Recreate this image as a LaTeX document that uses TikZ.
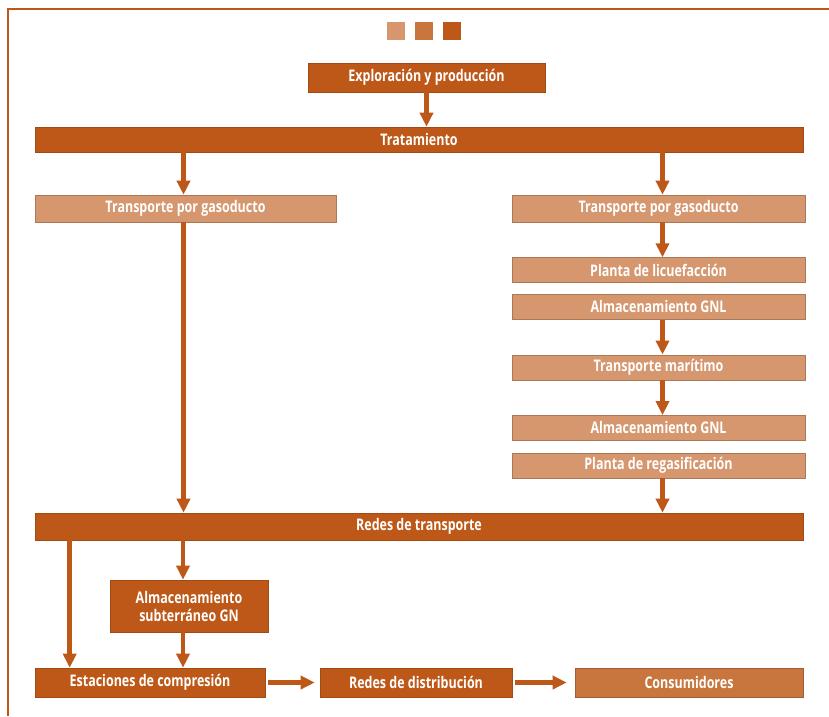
\documentclass[tikz,border=0pt]{standalone}
\usepackage{fontspec}
\setmainfont{Open Sans}[FakeStretch=0.78]
\usetikzlibrary{positioning, arrows.meta}
\definecolor{gasdark}{RGB}{190,88,24}
\definecolor{gasmid}{RGB}{201,118,62}
\definecolor{gaslight}{RGB}{214,150,110}
\tikzset{
	stage/.style={draw=gasdark!85!black, line width=0.6pt, rectangle, inner sep=1pt, text=white, font=\bfseries\fontsize{16}{18}\selectfont},
	darkbox/.style={stage, fill=gasdark, minimum height=27pt},
	lightbox/.style={stage, fill=gaslight, draw=gaslight!80!black, minimum height=25pt},
	midbox/.style={stage, fill=gasmid, draw=gasmid!80!black, minimum height=29pt},
	% legend squares at the top
	swatch/.style={rectangle, minimum width=18pt, minimum height=18pt, inner sep=0pt},
	flow/.style={draw=gasdark, line width=4.5pt, -{Triangle[length=14pt, width=13pt]}},
}

\begin{document}
\begin{tikzpicture}[x=1pt, y=1pt]
	\useasboundingbox (0,0) rectangle (829,-716);
	\fill[white] (0,0) rectangle (829,-716);
	\draw[gasdark, line width=2pt] (829,-9) -- (8,-9) -- (8,-716);
	
	\node (sw1) [swatch, fill=gaslight] at (396,-31) {};
	\node (sw2) [swatch, fill=gasmid] at (424,-31) {};
	\node (sw3) [swatch, fill=gasdark] at (452,-31) {};
	
	\node (expl) [darkbox, minimum width=237pt, minimum height=29pt] at (426.5,-77.5) {Exploración y producción};
	\node (trat) [darkbox, minimum width=768pt, minimum height=25pt] at (419,-139.5) {Tratamiento};
	
	\node (tpgL) [lightbox, minimum width=301pt, minimum height=27pt] at (185.5,-208.5) {Transporte por gasoducto};
	\node (tpgR) [lightbox, minimum width=293pt, minimum height=27pt] at (658.5,-208.5) {Transporte por gasoducto};
	
	\node (lic) [lightbox, minimum width=293pt, below=35pt of tpgR] {Planta de licuefacción};
	\node (almA) [lightbox, minimum width=293pt, below=11pt of lic] {Almacenamiento GNL};
	\node (mar) [lightbox, minimum width=293pt, below=35pt of almA] {Transporte marítimo};
	\node (almB) [lightbox, minimum width=293pt, below=35pt of mar] {Almacenamiento GNL};
	\node (reg) [lightbox, minimum width=293pt, below=12pt of almB] {Planta de regasificación};
	
	\node (redes) [darkbox, minimum width=768pt] at (419,-526.5) {Redes de transporte};
	
	\node (sub) [darkbox, minimum width=158pt, minimum height=52pt, align=center] at (189,-606) {Almacenamiento\\subterráneo GN};
	
	\node (est) [darkbox, minimum width=230pt, minimum height=29pt] at (150,-682.5) {Estaciones de compresión};
	\node (dist) [darkbox, minimum width=192pt, minimum height=29pt] at (416,-682.5) {Redes de distribución};
	\node (cons) [midbox, minimum width=228pt] at (689,-682.5) {Consumidores};
	
	\coordinate (estin) at ([xshift=35pt]est.north west);
	
	\begin{scope}[flow]
		\draw (expl.south) -- (expl.south |- trat.north);
		\draw ([xshift=-2pt]trat.south -| tpgL) -- ([xshift=-2pt]tpgL.north);
		\draw ([xshift=4pt]trat.south -| tpgR) -- ([xshift=4pt]tpgR.north);
		
		\draw ([xshift=4pt]tpgR.south) -- ([xshift=4pt]lic.north);
		\draw ([xshift=4pt]almA.south) -- ([xshift=4pt]mar.north);
		\draw ([xshift=4pt]mar.south) -- ([xshift=4pt]almB.north);
		\draw ([xshift=4pt]reg.south) -- ([xshift=4pt]reg.south |- redes.north);
		
		\draw ([xshift=-2pt]tpgL.south) -- ([xshift=-2pt]tpgL.south |- redes.north);
		
		\draw (redes.south -| estin) -- (estin);
		\draw ([xshift=-6pt]redes.south -| sub) -- ([xshift=-6pt]sub.north);
		\draw ([xshift=-6pt]sub.south) -- ([xshift=-6pt]sub.south |- est.north);
		
		\draw[shorten <=3pt, shorten >=5pt] (est) -- (dist);
		\draw[shorten <=3pt, shorten >=8pt] (dist) -- (cons);
	\end{scope}
	
\end{tikzpicture}
\end{document}
